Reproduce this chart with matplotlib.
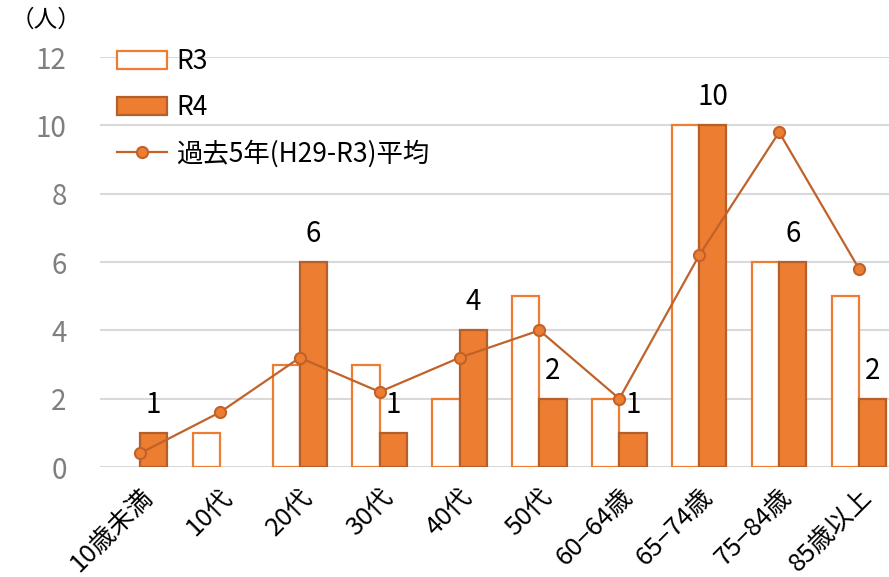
import numpy as np
from matplotlib import pyplot as plt
from matplotlib.patches import Patch

plt.rcParams['font.family'] = ['Noto Sans CJK JP', 'DejaVu Sans']

categories = ["10歳未満", "10代", "20代", "30代", "40代", "50代", "60−64歳", "65−74歳", "75−84歳", "85歳以上"]
r3 = [0, 1, 3, 3, 2, 5, 2, 10, 6, 5]
r4 = [1, 0, 6, 1, 4, 2, 1, 10, 6, 2]
avg5 = [0.4, 1.6, 3.2, 2.2, 3.2, 4.0, 2.0, 6.2, 9.8, 5.8]

orange = "#ED7D31"
dark = "#B5602A"
line_c = "#C0622A"

fig = plt.figure(figsize=(8.89, 5.77), dpi=100)
ax = fig.add_axes([0.1125, 0.1906, 0.8875, 0.7105])

x = np.arange(len(categories))
w = 0.34
# zero bars are not drawn in the original
lw3 = [1.6 if v else 0 for v in r3]
lw4 = [1.6 if v else 0 for v in r4]
ax.bar(x - w / 2, r3, w, facecolor="white", edgecolor=orange, linewidth=lw3, zorder=2)
ax.bar(x + w / 2, r4, w, facecolor=orange, edgecolor=dark, linewidth=lw4, zorder=2)
ln, = ax.plot(x, avg5, color=line_c, linewidth=1.6, marker="o", markersize=8,
              markerfacecolor=orange, markeredgecolor=line_c, markeredgewidth=1.5, zorder=3)

for xi, v in zip(x, r4):
    if v > 0:
        ax.text(xi + w / 2, v + 0.38, str(v), ha="center", va="bottom", fontsize=20, color="black", zorder=4)

ax.set_ylim(0, 12)
ax.set_xlim(-0.5, 9.375)
ax.set_yticks(range(0, 13, 2))
ax.yaxis.grid(True, color="#D9D9D9", linewidth=1.5, zorder=0)
ax.set_axisbelow(True)
for s in ax.spines.values():
    s.set_visible(False)
ax.tick_params(axis="both", length=0)
ax.tick_params(axis="y", labelsize=20, labelcolor="#7F7F7F", pad=24)
ax.set_xticks(x)
ax.set_xticklabels(categories, rotation=45, ha="right", rotation_mode="anchor", fontsize=18.5)
ax.tick_params(axis="x", pad=12)

h3 = Patch(facecolor="white", edgecolor=orange, linewidth=1.6)
h4 = Patch(facecolor=orange, edgecolor=dark, linewidth=1.6)
fig.legend([h3, h4, ln], ["R3", "R4", "過去5年(H29-R3)平均"],
           loc="upper left", bbox_to_anchor=(117 / 889, 1 - 48 / 577), frameon=False, fontsize=19,
           handlelength=1.9, labelspacing=0.72, handletextpad=0.35, borderaxespad=0, borderpad=0)

fig.text(0.012, 0.965, "（人）", fontsize=17, color="black", va="center")

fig.savefig("out.png", dpi=100)
